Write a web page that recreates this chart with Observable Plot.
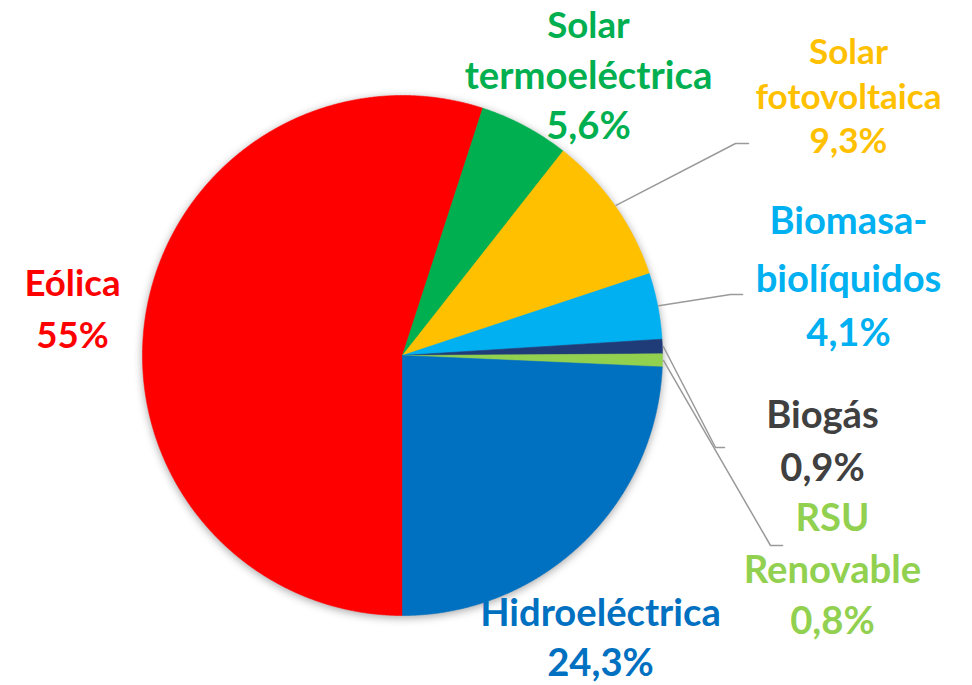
<!DOCTYPE html>
<html><head><meta charset="utf-8">
<script src="https://cdn.jsdelivr.net/npm/d3@7"></script>
<script src="https://cdn.jsdelivr.net/npm/@observablehq/plot@0.6"></script>
<style>body{margin:0;background:#fff}</style>
</head><body><div id="chart"></div>
<script>
// ---- data ----
const names = ["Eólica", "Solar termoeléctrica", "Solar fotovoltaica", "Biomasa-biolíquidos", "Biogás", "RSU Renovable", "Hidroeléctrica"];
const values = [55, 5.6, 9.3, 4.1, 0.9, 0.8, 24.3];
const labelNameLines = [["Eólica"], ["Solar", "termoeléctrica"], ["Solar", "fotovoltaica"], ["Biomasa-", "biolíquidos"], ["Biogás"], ["RSU", "Renovable"], ["Hidroeléctrica"]];
const sliceColors = ["#FF0000", "#00B050", "#FFC000", "#00B0F0", "#203C78", "#92D050", "#0070C0"];
const labelColors = ["#FF0000", "#00B050", "#FFC000", "#00B0F0", "#404040", "#92D050", "#0070C0"];

// ---- layout ----
const W = 972, H = 685, cx = 402, cy = 355, R = 260;
const FONT = "Lato", K = 0.94; // size factor vs. reference font
const labelLayout = [
  {x: 72,  ys: [295, 347], sizes: [39, 39]},
  {x: 588, ys: [37, 88, 138], sizes: [39, 40.7, 40.7]},
  {x: 848, ys: [63, 108, 152], sizes: [37.4, 37.4, 37.4]},
  {x: 848, ys: [233, 291, 345], sizes: [40.6, 40.6, 40.6]},
  {x: 822, ys: [427, 480], sizes: [40.6, 40.6]},
  {x: 832, ys: [530, 582, 633], sizes: [40.7, 40.7, 40.7]},
  {x: 600, ys: [625, 675], sizes: [40.6, 40.6]}
];
const elbows = [null, null, [[735, 143], [748, 143]], [[730, 294], [742, 294]], [[715, 447], [724, 447]], [[770, 545], [782, 545]], null];

const pct = v => String(v).replace(".", ",") + "%";
const pt = (a, r) => [cx + r * Math.sin(a), cy - r * Math.cos(a)];

const arcs = d3.pie().sort(null).startAngle(Math.PI).endAngle(3 * Math.PI)(values);

// slice polygons
const slicePts = [];
arcs.forEach((a, i) => {
  const push = ([x, y]) => slicePts.push({name: names[i], x, y});
  push([cx, cy]);
  const steps = Math.max(2, Math.ceil((a.endAngle - a.startAngle) / 0.005));
  for (let k = 0; k <= steps; k++) push(pt(a.startAngle + (a.endAngle - a.startAngle) * k / steps, R));
  push([cx, cy]);
});

// leader lines
const leaderPts = [];
arcs.forEach((a, i) => {
  if (!elbows[i]) return;
  const mid = (a.startAngle + a.endAngle) / 2;
  const [sx, sy] = pt(mid, R + 1);
  leaderPts.push({name: names[i], x: sx, y: sy});
  elbows[i].forEach(([x, y]) => leaderPts.push({name: names[i], x, y}));
});

// label lines
const textItems = [];
names.forEach((n, i) => {
  const lines = [...labelNameLines[i], pct(values[i])];
  const L = labelLayout[i];
  lines.forEach((t, j) => textItems.push({text: t, x: L.x, y: L.ys[j], size: L.sizes[j] * K, color: labelColors[i]}));
});

const chart = Plot.plot({
  width: W, height: H, margin: 0,
  x: {domain: [0, W], range: [0, W], axis: null},
  y: {domain: [0, H], range: [0, H], axis: null},
  color: {domain: names, range: sliceColors},
  marks: [
    Plot.line(slicePts, {x: "x", y: "y", z: "name", fill: "name", stroke: "name", strokeWidth: 0.6, curve: "linear"}),
    Plot.line(leaderPts, {x: "x", y: "y", z: "name", stroke: "#9A9A9A", strokeWidth: 1.5}),
    Plot.text(textItems, {x: "x", y: "y", text: "text", fill: d => d.color, fontSize: "size", textAnchor: "middle", lineAnchor: "bottom", fontFamily: FONT, fontWeight: "bold"})
  ]
});
document.getElementById("chart").appendChild(chart);
const g = chart.querySelector('g[aria-label="line"]');
if (g) g.style.filter = "drop-shadow(0px 2px 4px rgba(0,0,0,0.35))";
</script>
</body></html>
